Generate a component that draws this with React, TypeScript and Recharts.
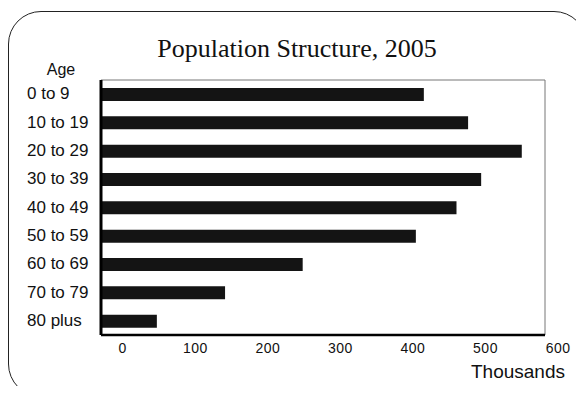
import { BarChart, Bar, XAxis, YAxis, ReferenceArea } from 'recharts';

const ageGroups = ['0 to 9', '10 to 19', '20 to 29', '30 to 39', '40 to 49', '50 to 59', '60 to 69', '70 to 79', '80 plus'];
const population = [415, 476, 550, 494, 460, 404, 248, 141, 47];
const xTicks = [0, 100, 200, 300, 400, 500, 600];

// plot frame starts a little left of zero, like the original
const X_MIN = -30;
const X_MAX = 582;

const data = ageGroups.map((age, i) => ({ age, value: population[i] }));

const SANS = '"Liberation Sans", Arial, sans-serif';

function AgeTick(props: any) {
  const { x, y, payload } = props;
  return (
    <text x={x - 74} y={y} dy={5} textAnchor="start" fontFamily={SANS} fontSize={17} fill="#111">
      {payload.value}
    </text>
  );
}

function ThousandsLabel(props: any) {
  const { viewBox } = props;
  return (
    <text x={viewBox.x + viewBox.width + 20} y={viewBox.y + viewBox.height - 2} textAnchor="end" fontFamily={SANS} fontSize={19} fill="#111">
      Thousands
    </text>
  );
}

export default function App() {
  return (
    <div style={{ position: 'relative', width: 576, height: 386, marginBottom: -8, overflow: 'hidden', background: '#fff' }}>
      {/* rounded frame runs off the right and bottom edges, as in the scan */}
      <div
        style={{
          position: 'absolute',
          left: 0,
          top: 2.5,
          width: 579,
          height: 386,
          boxSizing: 'border-box',
          border: '1.5px solid #222',
          borderRadius: 33,
        }}
      />
      <div
        style={{
          position: 'absolute',
          left: 0,
          top: 28,
          width: 578,
          textAlign: 'center',
          fontFamily: '"Liberation Serif", "Times New Roman", serif',
          fontSize: 26,
          lineHeight: '26px',
          color: '#111',
        }}
      >
        Population Structure, 2005
      </div>
      <div style={{ position: 'absolute', left: 0, top: 0 }}>
        <BarChart width={576} height={384} data={data} layout="vertical" margin={{ top: 72, right: 39, bottom: 12, left: 19 }} barSize={13}>
          <ReferenceArea x1={X_MIN} x2={X_MAX} fill="none" stroke="#777" strokeWidth={1} ifOverflow="visible" />
          <XAxis
            type="number"
            domain={[X_MIN, X_MAX]}
            allowDataOverflow
            ticks={xTicks}
            interval={0}
            height={45}
            tickLine={false}
            tickSize={0}
            tickMargin={8}
            axisLine={{ stroke: '#000', strokeWidth: 2.5 }}
            tick={{ fontFamily: SANS, fontSize: 14, letterSpacing: 0.5, fill: '#111' }}
            label={<ThousandsLabel />}
          />
          <YAxis
            type="category"
            dataKey="age"
            width={74}
            tickLine={false}
            tickSize={0}
            tickMargin={0}
            axisLine={{ stroke: '#000', strokeWidth: 3 }}
            tick={<AgeTick />}
            label={{ value: 'Age', position: 'top', offset: 5, dx: -3, fontFamily: SANS, fontSize: 16, fill: '#111' }}
          />
          <Bar dataKey={(d: any) => [X_MIN, d.value]} fill="#141414" isAnimationActive={false} />
        </BarChart>
      </div>
    </div>
  );
}
